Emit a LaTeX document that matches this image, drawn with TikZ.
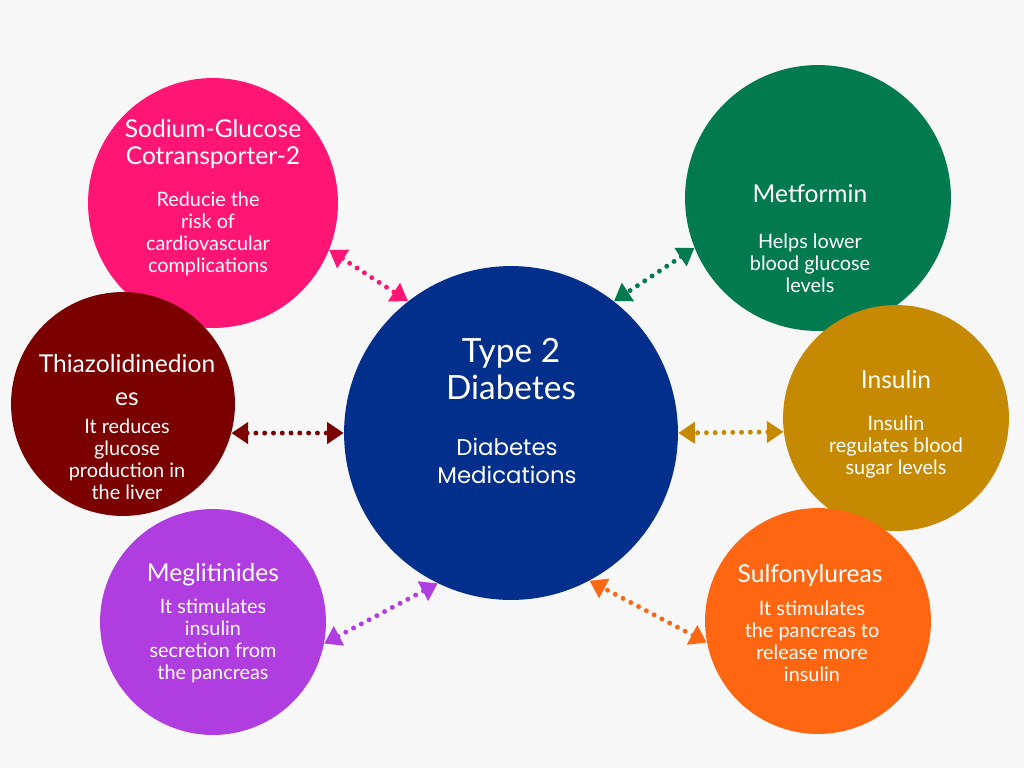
\documentclass[tikz,border=0pt]{standalone}
\usepackage{fontspec}
\setmainfont{Lato}
\newfontfamily\subfont{Poppins}
\usetikzlibrary{arrows.meta}

\definecolor{bgcol}{HTML}{F7F7F7}
\definecolor{maincol}{HTML}{022F8C}
\definecolor{sglcol}{HTML}{FF1573}
\definecolor{metcol}{HTML}{007A4E}
\definecolor{thzcol}{HTML}{7B0000}
\definecolor{inscol}{HTML}{C58A02}
\definecolor{megcol}{HTML}{B03DE0}
\definecolor{sulcol}{HTML}{FF6611}

\begin{document}
\begin{tikzpicture}[x=0.02cm, y=-0.02cm,
    bubble/.style={circle, inner sep=0pt, draw=none},
    title/.style={text=white, align=center, font=\fontsize{14}{15.5}\selectfont},
    body/.style={text=white, align=center, font=\fontsize{11.3}{12.5}\selectfont},
    link/.style={line width=2.8pt, line cap=round, dash pattern=on 0pt off 5pt,
        {Triangle[length=9.5pt, width=12pt, line cap=butt]}-{Triangle[length=9.5pt, width=12pt, line cap=butt]}}]
    \useasboundingbox[fill=bgcol] (0,0) rectangle (1024,768);

    % circles
    \foreach \n/\c/\x/\y/\r in {main/maincol/511/433/167, sgl/sglcol/213/203/125,
        met/metcol/818/198/133, thz/thzcol/123/404/112, ins/inscol/896/418/113,
        meg/megcol/213/622/113, sul/sulcol/818/621/113} {
        \node[bubble, fill=\c, minimum size=\r*0.04cm] (\n) at (\x,\y) {};
    }

    % centre
    \node[text=white, align=center, font=\fontsize{19}{21}\selectfont] (maintitle) at (511,369) {Type 2\\Diabetes};
    \node[text=white, align=center, font=\subfont\fontsize{13}{16}\selectfont] (mainsub) at (507,461) {Diabetes\\Medications};

    % titles
    \node[title] (sgltitle) at (213,144) {Sodium-Glucose\\Cotransporter-2};
    \node[title] (mettitle) at (810,194) {Metformin};
    \node[title, font=\fontsize{14}{19}\selectfont] (thztitle) at (127,380) {Thiazolidinedion\\es};
    \node[title] (institle) at (896,380) {Insulin};
    \node[title] (megtitle) at (213,575) {Meglitinides};
    \node[title] (sultitle) at (810,576) {Sulfonylureas};

    % texts
    \node[body] (sgltext) at (208,234) {Reducie the\\risk of\\cardiovascular\\complications};
    \node[body] (mettext) at (810,263) {Helps lower\\blood glucose\\levels};
    \node[body] (thztext) at (127,459) {It reduces\\glucose\\production in\\the liver};
    \node[body] (instext) at (896,447) {Insulin\\regulates blood\\sugar levels};
    \node[body] (megtext) at (213,641) {It stimulates\\insulin\\secretion from\\the pancreas};
    \node[body] (sultext) at (812,641) {It stimulates\\the pancreas to\\release more\\insulin};

    % links
    \foreach \a/\b/\c in {sgl.-22/main.128/sglcol, met.-158/main.52/metcol,
        thz.-15/main.180/thzcol, ins.-173/main.0/inscol,
        meg.-11/main.-116/megcol, sul.-169/main.-62/sulcol} {
        \draw[link, \c] (\a) -- (\b);
    }
\end{tikzpicture}
\end{document}
